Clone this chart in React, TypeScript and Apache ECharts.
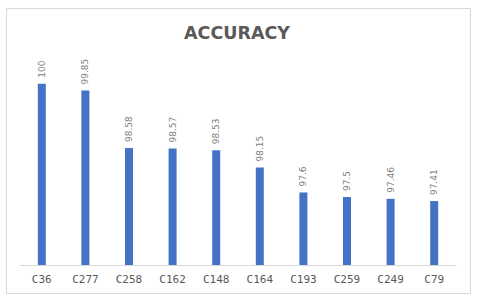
import React, { useEffect, useRef } from "react";
import * as echarts from "echarts";

const categories = ["C36", "C277", "C258", "C162", "C148", "C164", "C193", "C259", "C249", "C79"];
const accuracy = [100, 99.85, 98.58, 98.57, 98.53, 98.15, 97.6, 97.5, 97.46, 97.41];
const titleText = "ACCURACY";

export default function App() {
  const ref = useRef<HTMLDivElement>(null);
  useEffect(() => {
    if (!ref.current) return;
    const chart = echarts.init(ref.current, null, { renderer: "svg" });
    chart.setOption({
      animation: false,
      backgroundColor: "#ffffff",
      title: {
        text: titleText,
        left: 179,
        top: 19,
        textStyle: { fontFamily: "DejaVu Sans", fontWeight: "bold", fontSize: 17.5, color: "#595959" },
      },
      graphic: [
        {
          type: "rect",
          shape: { x: 6.5, y: 8.5, width: 464, height: 285 },
          style: { fill: "none", stroke: "#d9d9d9", lineWidth: 1 },
          silent: true,
        },
      ],
      grid: { left: 20, right: 24, top: 61, bottom: 36, containLabel: false },
      xAxis: {
        type: "category",
        data: categories,
        axisLine: { show: true, lineStyle: { color: "#d9d9d9", width: 1 } },
        axisTick: { show: false },
        axisLabel: { color: "#595959", fontFamily: "DejaVu Sans Mono", fontSize: 11, margin: 9 },
      },
      yAxis: {
        type: "value",
        min: 96,
        max: 100.5,
        show: false,
        splitLine: { show: false },
      },
      series: [
        {
          type: "bar",
          data: accuracy,
          barWidth: 8,
          itemStyle: { color: "#4472c4" },
          label: {
            show: true,
            position: "top",
            rotate: 90,
            align: "left",
            verticalAlign: "middle",
            distance: 6,
            color: "#808080",
            fontFamily: "DejaVu Sans",
            fontSize: 9,
          },
        },
      ],
    });
    return () => chart.dispose();
  }, []);
  return <div ref={ref} style={{ position: "fixed", left: 0, top: 0, width: 480, height: 301 }} />;
}
